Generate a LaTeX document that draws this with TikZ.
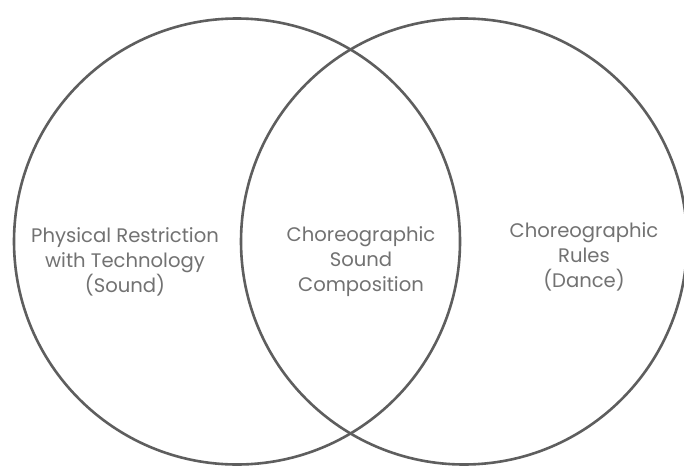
\documentclass[tikz,border=0pt]{standalone}
\usepackage{fontspec}
\setmainfont{Poppins}
\definecolor{ringgray}{HTML}{5E5E5E}
\definecolor{textgray}{HTML}{727272}
\begin{document}
\begin{tikzpicture}[x=1pt,y=-1pt,
  ring/.style={circle, draw=ringgray, line width=2.6pt, minimum size=446pt, inner sep=0pt},
  setlabel/.style={text=textgray, align=center, inner sep=0pt,
    font=\fontsize{19.6}{25}\selectfont}]
\useasboundingbox[fill=white] (0,0) rectangle (684,468);
% the two overlapping sets
\node[ring] (left)  at (237,241.5) {};
\node[ring] (right) at (464,241.5) {};
% set labels
\node[setlabel] (tech)  at (125,262) {Physical Restriction\\with Technology\\(Sound)};
\node[setlabel] (both)  at (361,262) {Choreographic\\Sound\\Composition};
\node[setlabel] (dance) at (584,257) {Choreographic\\Rules\\(Dance)};
\end{tikzpicture}
\end{document}
